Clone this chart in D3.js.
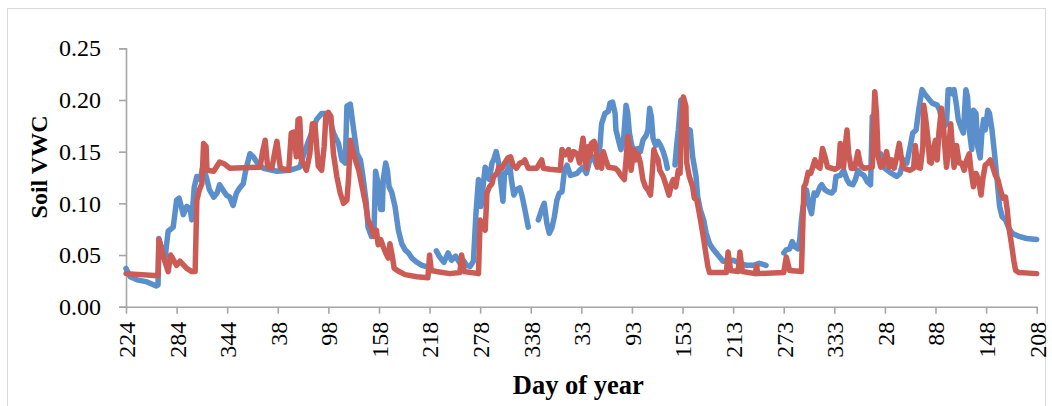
<!DOCTYPE html>
<html>
<head>
<meta charset="utf-8">
<script src="https://cdn.jsdelivr.net/npm/d3@7/dist/d3.min.js"></script>
<style>
  html, body { margin: 0; padding: 0; background: #fff; }
  svg { display: block; }
  .tick text { font-family: "Liberation Serif", "Times New Roman", serif; font-size: 24px; fill: #000; }
  .axis-title { font-family: "Liberation Serif", "Times New Roman", serif; font-weight: bold; fill: #000; }
</style>
</head>
<body>
<svg id="chart" width="1052" height="406"></svg>
<script>
// Day-of-year labels shown every 60 days along the record
const dayLabels = ["224","284","344","38","98","158","218","278","338","33","93","153","213","273","333","28","88","148","208"];
const yTicks = [0, 0.05, 0.10, 0.15, 0.20, 0.25];

// Probe 1 (blue): days since start of record, and volumetric water content (null = missing data)
const probe1Day = [0,5,13,25,36,38,39,46,50,56,60,63,68,72,76,78,81,84,88,91,95,99,104,108,111,115,119,123,127,131,135,139,142,147,151,155,163,179,194,206,214,226,232,240,246,252,256,260,262,266,270,274,278,281,285,287,291,294,296,299,302,304,305,308,310,312,315,319,323,327,331,335,339,345,351,355,361,368,372,377,382,386,391,396,400,404,408,412,415,418,421,423,426,428,431,434,436,439,442,444,447,449,452,455,457,460,463,467,470,473,477,483,489,493,496,499,502,505,508,511,514,517,520,523,527,535,538,542,546,550,554,558,562,564,568,572,574,577,580,581,585,587,590,593,595,597,600,603,607,610,613,617,619,621,623,625,628,631,634,637,640,642,646,651,653,655,658,661,664,666,669,672,676,678,681,685,688,692,696,700,704,708,720,728,736,744,751,759,770,780,783,787,790,793,797,799,801,803,807,810,813,816,819,823,825,829,833,837,840,842,847,851,855,858,862,865,868,871,875,879,883,885,887,891,895,898,906,914,918,922,926,930,933,937,940,944,947,950,953,956,962,965,968,970,973,975,978,980,982,985,987,990,993,995,996,998,1000,1003,1005,1008,1010,1013,1015,1017,1019,1022,1024,1027,1030,1033,1036,1039,1043,1047,1051,1059,1068,1080];
const probe1VWC = [.037,.029,.026,.024,.020,.021,.066,.045,.073,.077,.103,.105,.089,.097,.095,.084,.116,.126,.123,.135,.126,.113,.106,.110,.118,.113,.108,.106,.098,.110,.115,.119,.132,.148,.145,.140,.134,.131,.132,.135,.155,.181,.187,.187,.168,.158,.142,.139,.194,.196,.171,.148,.142,.126,.100,.077,.068,.071,.131,.119,.094,.094,.123,.139,.132,.116,.111,.097,.074,.061,.055,.052,.047,.043,.040,.039,null,.054,.048,.043,.052,.045,.049,.042,.045,.040,.039,.044,.090,.123,.097,.113,.135,.132,.123,.139,.142,.150,.139,.123,.102,.129,.131,.139,.123,.108,.113,.115,.106,.094,.077,null,.084,.094,.100,.081,.071,.076,.087,.103,.110,.111,.132,.137,.127,.129,.132,.135,.129,.142,.145,.137,.155,.177,.187,.189,.197,.198,.187,.171,.158,.152,.161,.195,.187,.168,.155,.152,.153,.150,.161,.166,.171,.192,.184,.163,.156,.160,.156,.150,.142,.134,null,.137,.156,.171,.200,.194,.174,.172,.171,.145,.126,.106,.094,.084,.071,.061,.056,.052,.048,.044,.045,.042,.040,.040,.042,.040,null,.052,.055,.056,.063,.058,.056,.065,.084,.097,.113,.098,.090,.110,.108,.116,.118,.113,.111,.110,.113,.126,.127,.132,.123,.119,.118,.123,.132,.129,.127,.121,.118,.184,.171,.148,.148,.135,.130,.126,.129,.142,.139,.155,.168,.171,.190,.210,.206,.203,.200,.197,.195,.190,.177,.174,.177,.210,.210,.206,.210,.194,.181,.174,.168,.197,.210,.203,.171,.152,.190,.187,.155,.144,.168,.181,.171,.190,.187,.171,.148,.123,.097,.087,.084,.076,.071,.068,.066,.065];

// Probe 2 (red)
const probe2Day = [0,38,39,46,50,53,60,64,72,78,82,84,87,90,92,95,96,104,111,117,123,159,162,165,168,173,177,179,183,193,196,199,202,204,206,208,214,218,221,224,228,232,235,237,240,243,246,250,254,258,262,264,266,272,276,280,284,287,291,294,297,299,302,305,308,311,313,316,318,324,331,345,358,360,362,368,384,396,398,401,418,420,423,426,428,431,434,436,440,442,446,449,453,456,459,463,467,471,473,477,487,493,495,503,515,517,521,525,527,531,535,538,540,542,544,546,548,550,552,555,557,559,561,564,566,569,572,580,583,587,591,593,595,597,599,602,604,607,610,613,616,619,622,624,626,628,631,633,637,641,644,647,649,652,655,657,659,661,664,665,668,672,674,677,680,684,687,690,692,712,714,717,726,728,731,746,748,749,780,783,787,801,804,806,809,812,817,820,823,826,829,832,841,845,847,849,851,853,855,857,860,864,868,871,875,885,887,888,890,892,895,898,902,905,908,911,914,917,919,922,930,934,936,939,942,945,946,948,951,953,955,957,960,962,964,967,969,971,973,976,978,980,982,985,988,991,994,997,1000,1002,1005,1008,1011,1014,1016,1019,1022,1025,1028,1031,1034,1037,1040,1043,1045,1047,1050,1053,1055,1059,1080];
const probe2VWC = [.032,.030,.065,.044,.034,.050,.040,.044,.037,.034,.034,.103,.113,.119,.158,.155,.132,.131,.140,.138,.134,.135,.150,.161,.135,.134,.152,.160,.134,.132,.168,.169,.145,.181,.182,.142,.132,.148,.177,.177,.136,.132,.155,.184,.188,.184,.148,.126,.110,.100,.103,.125,.161,.142,.132,.116,.100,.084,.077,.068,.074,.060,.065,.058,.052,.047,.061,.048,.037,.034,.031,.029,.028,.050,.035,.034,.032,.033,.050,.034,.032,.084,.077,.074,.110,.116,.119,.126,.129,.135,.134,.139,.144,.145,.137,.134,.139,.140,.142,.134,.134,.142,.134,.133,.132,.152,.147,.152,.142,.150,.148,.139,.152,.163,.145,.134,.155,.145,.158,.160,.156,.135,.145,.134,.150,.142,.135,.134,.132,.127,.123,.142,.165,.155,.132,.152,.142,.148,.139,.123,.116,.113,.108,.129,.152,.147,.142,.132,.126,.116,.108,.119,.123,.116,.132,.129,.177,.203,.194,.139,.126,.116,.105,.103,.090,.071,.055,.039,.033,.033,.053,.035,.034,.053,.034,.032,.039,.032,.033,.048,.035,.034,.116,.119,.130,.129,.142,.136,.134,.153,.145,.135,.133,.135,.158,.150,.135,.155,.171,.148,.134,.134,.150,.137,.134,.135,.187,.208,.187,.145,.135,.137,.150,.135,.142,.134,.145,.158,.147,.134,.132,.134,.156,.135,.134,.155,.195,.184,.163,.140,.139,.152,.161,.142,.168,.192,.181,.155,.135,.155,.177,.155,.135,.156,.139,.139,.132,.142,.148,.132,.116,.129,.123,.108,.123,.137,.139,.142,.135,.127,.123,.113,.105,.106,.094,.077,.061,.044,.035,.033,.032];

const series = [
  { name: "probe1", days: probe1Day, vwc: probe1VWC, color: "#5a8fcb" },
  { name: "probe2", days: probe2Day, vwc: probe2VWC, color: "#cb5c55" }
];

const svg = d3.select("#chart");
const W = 1052, H = 406;
const plot = { left: 126, right: 1036.7, top: 48.3, bottom: 306.7 };

// chart frame
svg.append("rect")
  .attr("x", 7.5).attr("y", 8.5)
  .attr("width", W - 7.5 - 6.5).attr("height", H)
  .attr("fill", "#fff").attr("stroke", "#d9d9d9").attr("stroke-width", 1);

const x = d3.scaleLinear().domain([0, 1080]).range([plot.left, plot.right]);
const y = d3.scaleLinear().domain([0, 0.25]).range([plot.bottom, plot.top]);

const axisColor = "#a6a6a6";

// y axis
const yAxis = svg.append("g")
  .attr("transform", `translate(${plot.left},0)`)
  .call(d3.axisLeft(y).tickValues(yTicks).tickFormat(d3.format(".2f")).tickSize(7).tickPadding(18));
yAxis.selectAll("path, line").attr("stroke", axisColor).attr("stroke-width", 1.6);

// x axis
const xAxis = svg.append("g")
  .attr("transform", `translate(0,${plot.bottom})`)
  .call(d3.axisBottom(x).tickValues(d3.range(0, 1081, 60)).tickFormat((d, i) => dayLabels[i]).tickSize(7).tickSizeOuter(0));
xAxis.selectAll("path, line").attr("stroke", axisColor).attr("stroke-width", 1.6);
xAxis.selectAll(".tick text")
  .attr("transform", "rotate(-90)")
  .attr("x", -15).attr("y", 0).attr("dy", "0.35em")
  .style("text-anchor", "end");

// axis titles
svg.append("text").attr("class", "axis-title")
  .attr("transform", "translate(47,167) rotate(-90)")
  .attr("text-anchor", "middle")
  .style("font-size", "24px")
  .text("Soil VWC");
svg.append("text").attr("class", "axis-title")
  .attr("x", (plot.left + plot.right) / 2 - 3).attr("y", 394)
  .attr("text-anchor", "middle")
  .style("font-size", "26.5px")
  .text("Day of year");

// series lines
const line = d3.line()
  .defined(d => d[1] !== null)
  .x(d => x(d[0]))
  .y(d => y(d[1]));

series.forEach(s => {
  const pts = s.days.map((d, i) => [d, s.vwc[i]]);
  svg.append("path")
    .datum(pts)
    .attr("fill", "none")
    .attr("stroke", s.color)
    .attr("stroke-width", 5.5)
    .attr("stroke-linejoin", "round")
    .attr("stroke-linecap", "round")
    .attr("d", line);
});
</script>
</body>
</html>
